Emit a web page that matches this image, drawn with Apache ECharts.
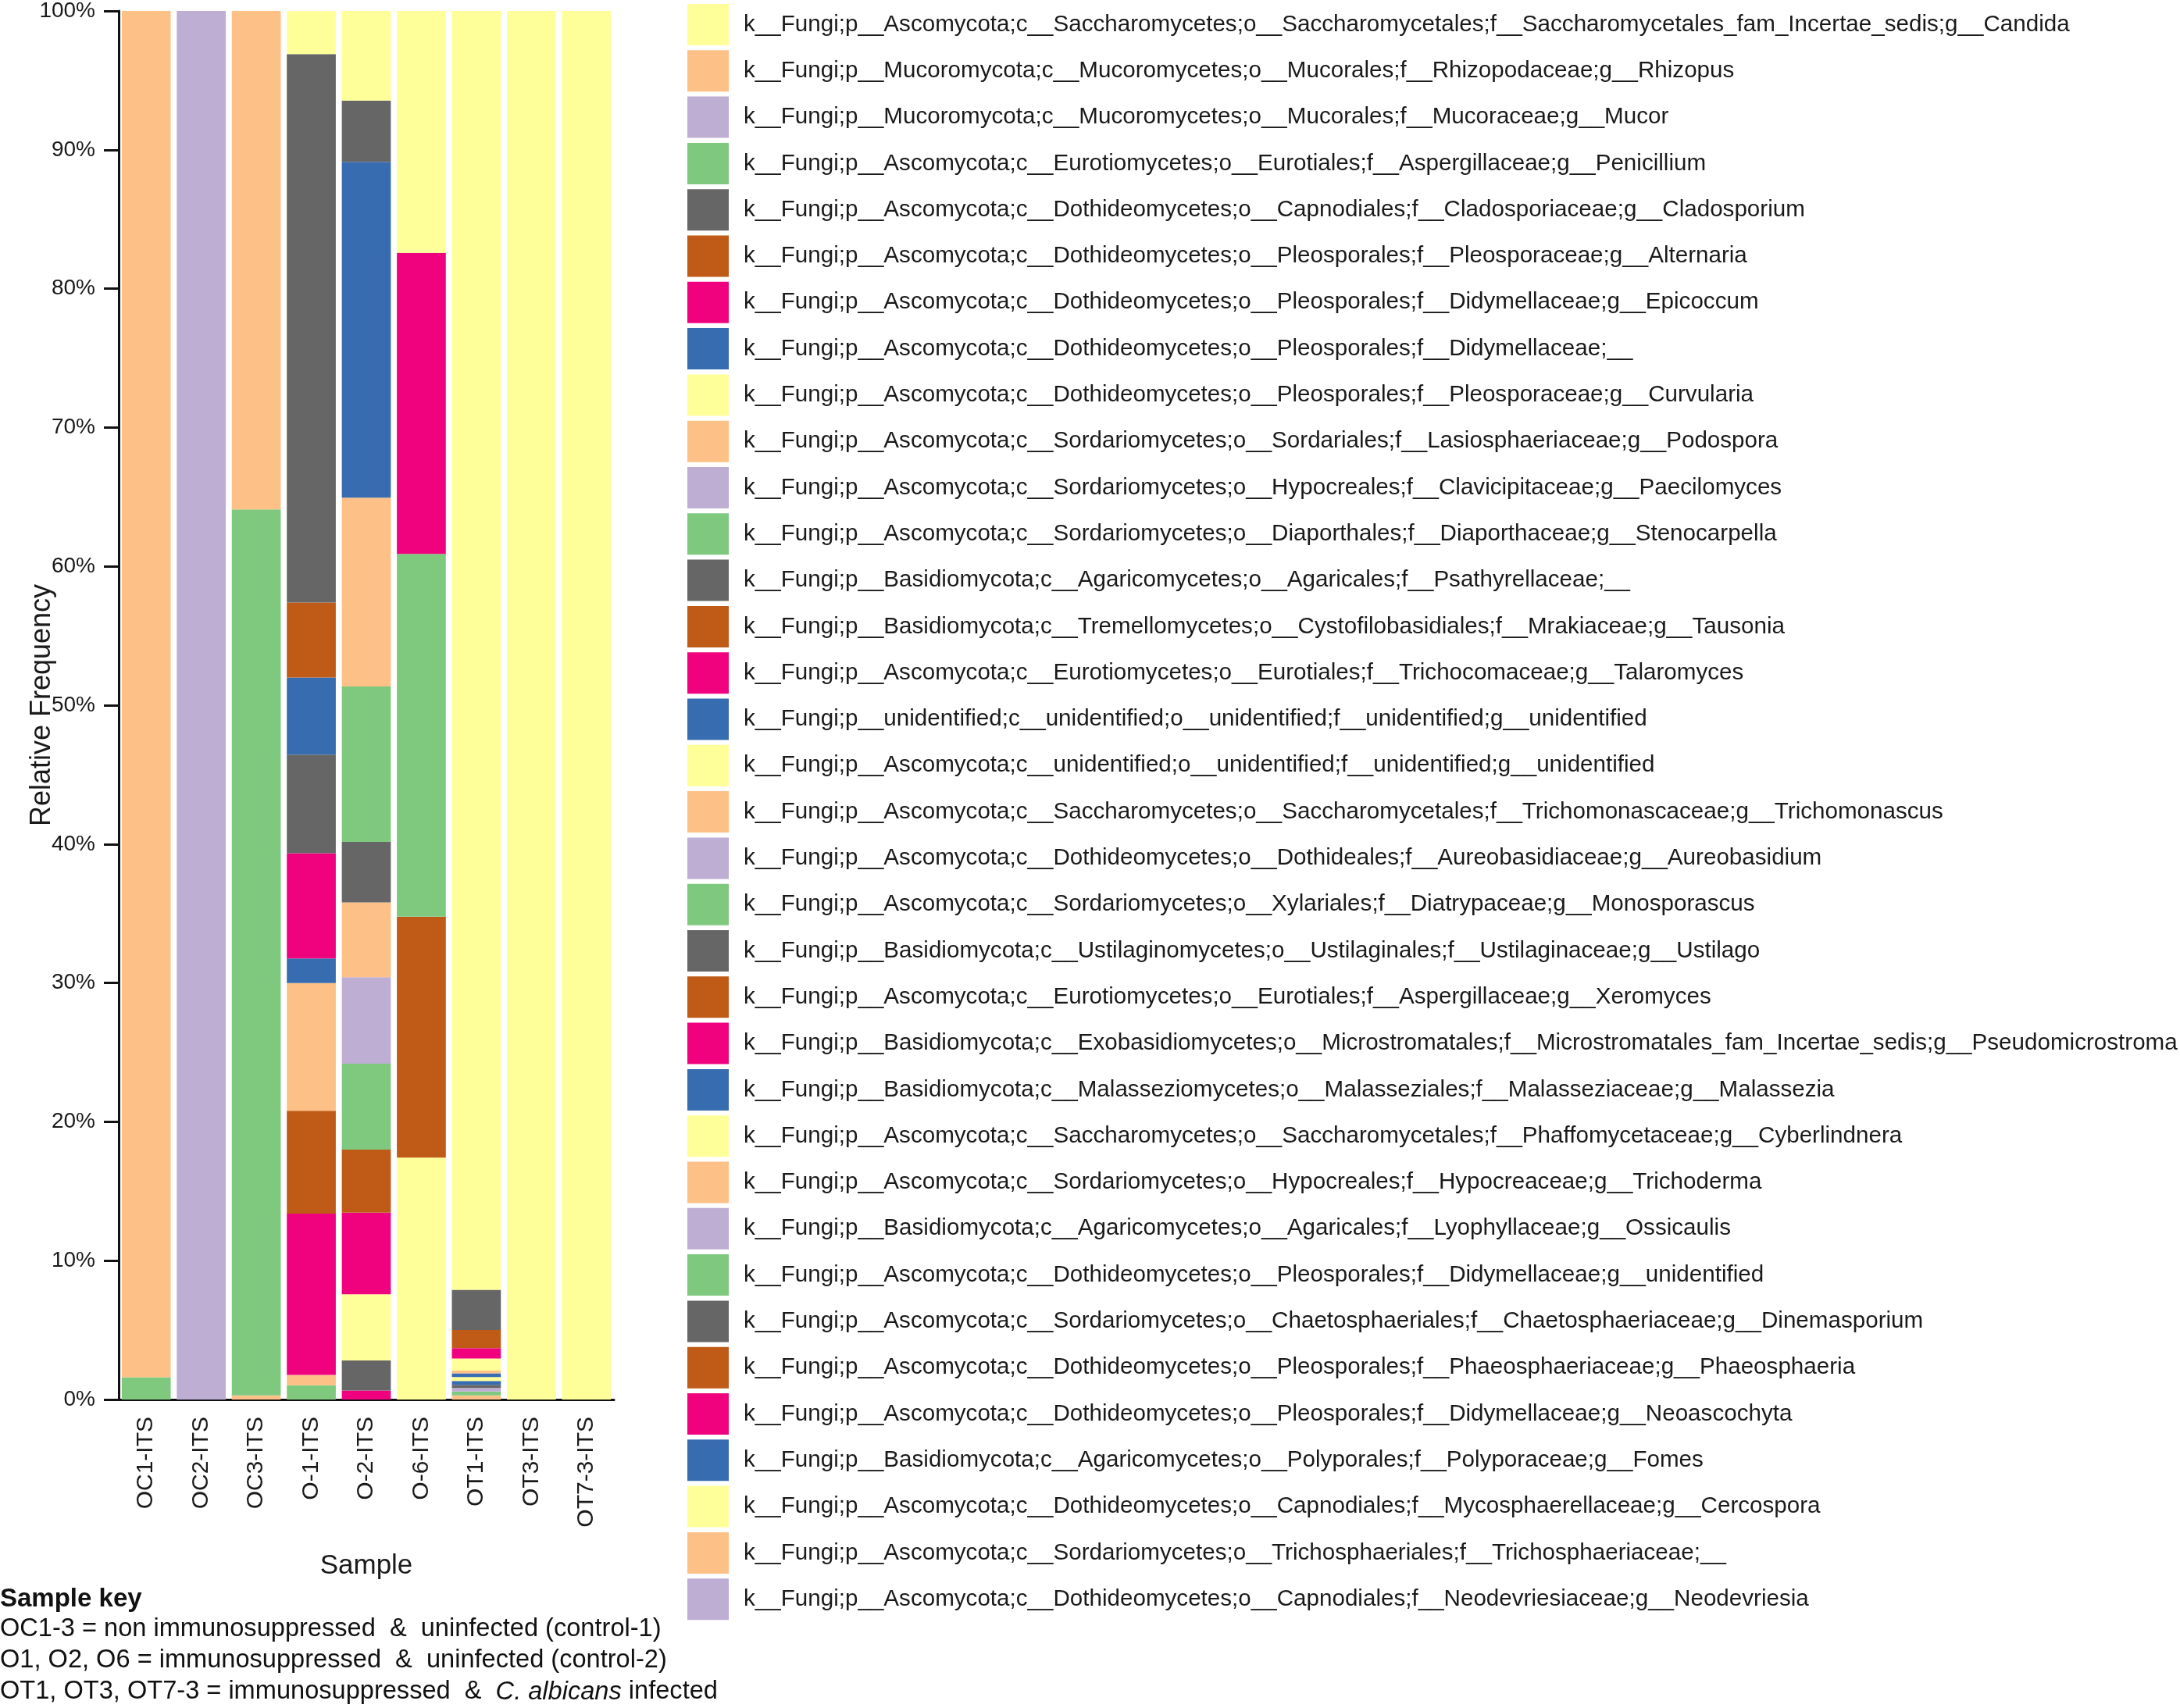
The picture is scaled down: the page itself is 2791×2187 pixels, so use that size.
<!DOCTYPE html>
<html>
<head>
<meta charset="utf-8">
<script src="https://cdn.jsdelivr.net/npm/echarts@6/dist/echarts.min.js"></script>
<style>
  html, body { margin: 0; padding: 0; background: #fff; }
  #chart { width: 2791px; height: 2187px; }
</style>
</head>
<body>
<div id="chart"></div>
<script>
// samples on the x axis
var samples = ['OC1-ITS', 'OC2-ITS', 'OC3-ITS', 'O-1-ITS', 'O-2-ITS', 'O-6-ITS', 'OT1-ITS', 'OT3-ITS', 'OT7-3-ITS'];

// taxa, in legend order
var taxa = [
  'k__Fungi;p__Ascomycota;c__Saccharomycetes;o__Saccharomycetales;f__Saccharomycetales_fam_Incertae_sedis;g__Candida',
  'k__Fungi;p__Mucoromycota;c__Mucoromycetes;o__Mucorales;f__Rhizopodaceae;g__Rhizopus',
  'k__Fungi;p__Mucoromycota;c__Mucoromycetes;o__Mucorales;f__Mucoraceae;g__Mucor',
  'k__Fungi;p__Ascomycota;c__Eurotiomycetes;o__Eurotiales;f__Aspergillaceae;g__Penicillium',
  'k__Fungi;p__Ascomycota;c__Dothideomycetes;o__Capnodiales;f__Cladosporiaceae;g__Cladosporium',
  'k__Fungi;p__Ascomycota;c__Dothideomycetes;o__Pleosporales;f__Pleosporaceae;g__Alternaria',
  'k__Fungi;p__Ascomycota;c__Dothideomycetes;o__Pleosporales;f__Didymellaceae;g__Epicoccum',
  'k__Fungi;p__Ascomycota;c__Dothideomycetes;o__Pleosporales;f__Didymellaceae;__',
  'k__Fungi;p__Ascomycota;c__Dothideomycetes;o__Pleosporales;f__Pleosporaceae;g__Curvularia',
  'k__Fungi;p__Ascomycota;c__Sordariomycetes;o__Sordariales;f__Lasiosphaeriaceae;g__Podospora',
  'k__Fungi;p__Ascomycota;c__Sordariomycetes;o__Hypocreales;f__Clavicipitaceae;g__Paecilomyces',
  'k__Fungi;p__Ascomycota;c__Sordariomycetes;o__Diaporthales;f__Diaporthaceae;g__Stenocarpella',
  'k__Fungi;p__Basidiomycota;c__Agaricomycetes;o__Agaricales;f__Psathyrellaceae;__',
  'k__Fungi;p__Basidiomycota;c__Tremellomycetes;o__Cystofilobasidiales;f__Mrakiaceae;g__Tausonia',
  'k__Fungi;p__Ascomycota;c__Eurotiomycetes;o__Eurotiales;f__Trichocomaceae;g__Talaromyces',
  'k__Fungi;p__unidentified;c__unidentified;o__unidentified;f__unidentified;g__unidentified',
  'k__Fungi;p__Ascomycota;c__unidentified;o__unidentified;f__unidentified;g__unidentified',
  'k__Fungi;p__Ascomycota;c__Saccharomycetes;o__Saccharomycetales;f__Trichomonascaceae;g__Trichomonascus',
  'k__Fungi;p__Ascomycota;c__Dothideomycetes;o__Dothideales;f__Aureobasidiaceae;g__Aureobasidium',
  'k__Fungi;p__Ascomycota;c__Sordariomycetes;o__Xylariales;f__Diatrypaceae;g__Monosporascus',
  'k__Fungi;p__Basidiomycota;c__Ustilaginomycetes;o__Ustilaginales;f__Ustilaginaceae;g__Ustilago',
  'k__Fungi;p__Ascomycota;c__Eurotiomycetes;o__Eurotiales;f__Aspergillaceae;g__Xeromyces',
  'k__Fungi;p__Basidiomycota;c__Exobasidiomycetes;o__Microstromatales;f__Microstromatales_fam_Incertae_sedis;g__Pseudomicrostroma',
  'k__Fungi;p__Basidiomycota;c__Malasseziomycetes;o__Malasseziales;f__Malasseziaceae;g__Malassezia',
  'k__Fungi;p__Ascomycota;c__Saccharomycetes;o__Saccharomycetales;f__Phaffomycetaceae;g__Cyberlindnera',
  'k__Fungi;p__Ascomycota;c__Sordariomycetes;o__Hypocreales;f__Hypocreaceae;g__Trichoderma',
  'k__Fungi;p__Basidiomycota;c__Agaricomycetes;o__Agaricales;f__Lyophyllaceae;g__Ossicaulis',
  'k__Fungi;p__Ascomycota;c__Dothideomycetes;o__Pleosporales;f__Didymellaceae;g__unidentified',
  'k__Fungi;p__Ascomycota;c__Sordariomycetes;o__Chaetosphaeriales;f__Chaetosphaeriaceae;g__Dinemasporium',
  'k__Fungi;p__Ascomycota;c__Dothideomycetes;o__Pleosporales;f__Phaeosphaeriaceae;g__Phaeosphaeria',
  'k__Fungi;p__Ascomycota;c__Dothideomycetes;o__Pleosporales;f__Didymellaceae;g__Neoascochyta',
  'k__Fungi;p__Basidiomycota;c__Agaricomycetes;o__Polyporales;f__Polyporaceae;g__Fomes',
  'k__Fungi;p__Ascomycota;c__Dothideomycetes;o__Capnodiales;f__Mycosphaerellaceae;g__Cercospora',
  'k__Fungi;p__Ascomycota;c__Sordariomycetes;o__Trichosphaeriales;f__Trichosphaeriaceae;__',
  'k__Fungi;p__Ascomycota;c__Dothideomycetes;o__Capnodiales;f__Neodevriesiaceae;g__Neodevriesia'
];

// relative frequency (%) per sample: [taxon index, value], bottom to top
var oc1 = [[3, 1.6], [1, 98.4]];
var oc2 = [[2, 100]];
var oc3 = [[17, 0.3], [3, 63.8], [1, 35.9]];
var o1 = [[27, 1.03], [33, 0.74], [30, 4.36], [22, 7.26], [21, 7.4], [17, 9.2], [15, 1.77],
          [14, 7.58], [12, 7.1], [7, 5.55], [5, 5.4], [4, 39.5], [0, 3.1]];
var o2 = [[30, 0.65], [28, 2.16], [24, 4.77], [22, 5.87], [21, 4.55], [19, 6.19], [18, 6.23],
          [17, 5.38], [12, 4.36], [11, 11.19], [9, 13.59], [7, 24.19], [4, 4.42], [0, 6.45]];
var o6 = [[16, 17.42], [13, 17.35], [11, 26.13], [6, 21.68], [0, 17.42]];
var ot1 = [[25, 0.3], [27, 0.28], [34, 0.25], [28, 0.22], [23, 0.28], [16, 0.28], [15, 0.28],
           [9, 0.19], [8, 0.87], [6, 0.75], [5, 1.3], [4, 2.9], [0, 92.1]];
var ot3 = [[0, 100]];
var ot73 = [[0, 100]];
var sampleValues = [oc1, oc2, oc3, o1, o2, o6, ot1, ot3, ot73];

var palette = ['#ffff99', '#fdc086', '#beaed4', '#7fc97f', '#666666', '#bf5b17', '#f0027f', '#386cb0'];

// stacking order, bottom first
var stackOrder = [25, 27];
for (var i = taxa.length - 1; i >= 0; i--) {
  if (stackOrder.indexOf(i) < 0) stackOrder.push(i);
}

function valueOf(sampleIdx, taxonIdx) {
  var list = sampleValues[sampleIdx];
  for (var k = 0; k < list.length; k++) {
    if (list[k][0] === taxonIdx) return list[k][1];
  }
  return 0;
}

var series = [];
stackOrder.forEach(function (t) {
  var data = [];
  for (var s = 0; s < samples.length; s++) data.push(valueOf(s, t));
  series.push({
    name: taxa[t],
    type: 'bar',
    stack: 'total',
    barCategoryGap: '11%',
    itemStyle: { color: palette[t % 8] },
    emphasis: { disabled: true },
    data: data
  });
});

var font = '"Liberation Sans", Arial, sans-serif';

var chart = echarts.init(document.getElementById('chart'));
chart.setOption({
  animation: false,
  backgroundColor: '#fff',
  grid: { left: 152, top: 13, width: 634, bottom: 395 },
  legend: {
    data: taxa,
    orient: 'vertical',
    left: 880,
    top: 5,
    padding: 0,
    itemWidth: 53,
    itemHeight: 53,
    itemGap: 6.3,
    icon: 'rect',
    selectedMode: false,
    textStyle: {
      fontFamily: font,
      fontSize: 29.6,
      color: '#1a1a1a',
      padding: [0, 0, 0, 14]
    }
  },
  xAxis: {
    type: 'category',
    data: samples,
    name: 'Sample',
    nameLocation: 'middle',
    nameGap: 196,
    nameTextStyle: { fontFamily: font, fontSize: 35, color: '#1a1a1a' },
    axisLine: { lineStyle: { color: '#111', width: 3 } },
    axisTick: { alignWithLabel: true, length: 15, lineStyle: { color: '#111', width: 3 } },
    axisLabel: {
      rotate: 90,
      margin: 22,
      fontFamily: font,
      fontSize: 30,
      color: '#1a1a1a'
    }
  },
  yAxis: {
    type: 'value',
    min: 0,
    max: 100,
    interval: 10,
    name: 'Relative Frequency',
    nameLocation: 'middle',
    nameGap: 80,
    nameMoveOverlap: false,
    nameTextStyle: { fontFamily: font, fontSize: 36, color: '#1a1a1a' },
    splitLine: { show: false },
    axisLine: { show: true, lineStyle: { color: '#111', width: 3 } },
    axisTick: { show: true, length: 19, lineStyle: { color: '#111', width: 3 } },
    axisLabel: {
      formatter: '{value}%',
      margin: 30,
      fontFamily: font,
      fontSize: 28,
      color: '#1a1a1a'
    }
  },
  graphic: [
    {
      type: 'text', left: 0, top: 2031,
      style: { text: 'Sample key', font: 'bold 33px ' + font, fill: '#111' }
    },
    {
      type: 'text', left: 0, top: 2070,
      style: { text: 'OC1-3 = non immunosuppressed  &  uninfected (control-1)', font: '32.6px ' + font, fill: '#111' }
    },
    {
      type: 'text', left: 0, top: 2110,
      style: { text: 'O1, O2, O6 = immunosuppressed  &  uninfected (control-2)', font: '32.6px ' + font, fill: '#111' }
    },
    {
      type: 'text', left: 0, top: 2150,
      style: {
        text: 'OT1, OT3, OT7-3 = immunosuppressed  &  {i|C. albicans} infected',
        font: '32.6px ' + font,
        fill: '#111',
        rich: { i: { fontStyle: 'italic', fontSize: 32.6, fontFamily: font, fill: '#111' } }
      }
    }
  ],
  series: series
});
</script>
</body>
</html>
